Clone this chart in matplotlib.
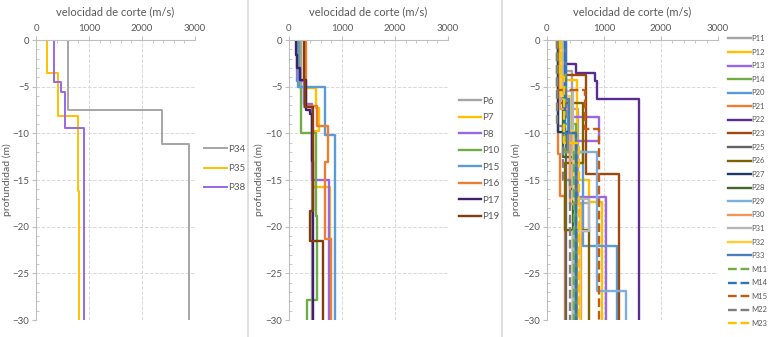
import matplotlib
matplotlib.use("Agg")
import matplotlib.pyplot as plt
from matplotlib.lines import Line2D
from matplotlib.ticker import MultipleLocator

plt.rcParams['font.family'] = ['Lato', 'DejaVu Sans']

# each profile: (layer boundaries in m, shear velocity of each layer in m/s)
# ---- panel 1
P34 = ([0, -7.5, -11.1, -30], [600, 2370, 2880])
P35 = ([0, -3.5, -8.1, -16.2, -30], [200, 410, 790, 820])
P38 = ([0, -4.5, -5.6, -9.4, -30], [345, 470, 550, 910])

# ---- panel 2
P6 = ([0, -5.0, -7.2, -30], [230, 280, 440])
P7 = ([0, -5.1, -7.3, -9.7, -15.7, -30], [296, 500, 560, 460, 780])
P8 = ([0, -4.4, -6.9, -15.0, -30], [160, 280, 440, 760])
P10 = ([0, -5.0, -10.0, -18.9, -27.9, -30], [190, 220, 500, 535, 340])
P15 = ([0, -5.05, -10.2, -30], [170, 670, 860])
P16 = ([0, -7.1, -9.2, -13.1, -21.3, -30], [315, 520, 740, 670, 800])
P17 = ([0, -1.6, -3.0, -4.3, -7.5, -7.9, -13.0, -30], [126, 160, 200, 315, 390, 430, 450])
P19 = ([0, -4.3, -7.2, -18.3, -21.5, -30], [290, 300, 460, 395, 645])

# ---- panel 3
P11 = ([0, -3.3, -7.4, -17.5, -20.5, -30], [240, 430, 540, 740, 520])
P12 = ([0, -4.3, -15.0, -17.4, -30], [300, 520, 740, 960])
P13 = ([0, -8.3, -10.8, -16.8, -30], [330, 920, 530, 1040])
P14 = ([0, -5.5, -9.0, -30], [200, 300, 500])
P20 = ([0, -6.3, -12.0, -22.1, -30], [300, 370, 630, 1220])
P21 = ([0, -12.2, -16.7, -30], [200, 230, 320])
P22 = ([0, -2.6, -3.5, -4.4, -6.3, -30], [316, 509, 842, 877, 1620])
P23 = ([0, -3.8, -14.4, -30], [250, 680, 1260])
P25 = ([0, -10.0, -30], [300, 340])
P26 = ([0, -6.8, -13.2, -20.4, -30], [230, 640, 320, 740])
P27 = ([0, -9.9, -16.0, -30], [200, 400, 500])
P28 = ([0, -6.2, -12.5, -30], [210, 280, 460])
P29 = ([0, -6.3, -12.0, -26.9, -30], [250, 420, 870, 1390])
P30 = ([0, -7.4, -17.6, -30], [220, 400, 600])
P31 = ([0, -5.5, -17.0, -20.5, -30], [280, 450, 740, 450])
P32 = ([0, -6.0, -9.8, -17.8, -30], [250, 400, 480, 580])
P33 = ([0, -6.3, -10.0, -30], [340, 380, 500])
M11 = ([0, -3.5, -12.0, -30], [230, 320, 480])
M14 = ([0, -10.0, -30], [320, 500])
M15 = ([0, -5.4, -9.5, -30], [180, 670, 920])
M22 = ([0, -9.2, -15.0, -30], [180, 280, 400])
M23 = ([0, -4.0, -11.0, -30], [230, 300, 560])

panel1 = [('P34', P34, '#a5a5a5', '-'), ('P35', P35, '#ffc000', '-'),
          ('P38', P38, '#9966e6', '-')]
panel2 = [('P6', P6, '#a5a5a5', '-'), ('P7', P7, '#ffc000', '-'),
          ('P8', P8, '#9966e6', '-'), ('P10', P10, '#70ad47', '-'),
          ('P15', P15, '#5b9bd5', '-'), ('P16', P16, '#ed7d31', '-'),
          ('P17', P17, '#3f1f6e', '-'), ('P19', P19, '#843c0c', '-')]
panel3 = [('P11', P11, '#a5a5a5', '-'), ('P12', P12, '#ffc000', '-'),
          ('P13', P13, '#9966e6', '-'), ('P14', P14, '#70ad47', '-'),
          ('P20', P20, '#5b9bd5', '-'), ('P21', P21, '#ed7d31', '-'),
          ('P22', P22, '#5b2c8f', '-'), ('P23', P23, '#9e480e', '-'),
          ('P25', P25, '#636363', '-'), ('P26', P26, '#806000', '-'),
          ('P27', P27, '#203864', '-'), ('P28', P28, '#43682b', '-'),
          ('P29', P29, '#7cafdd', '-'), ('P30', P30, '#f1975a', '-'),
          ('P31', P31, '#b7b7b7', '-'), ('P32', P32, '#ffcd33', '-'),
          ('P33', P33, '#4a7ebb', '-'), ('M11', M11, '#70ad47', '--'),
          ('M14', M14, '#2e75b6', '--'), ('M15', M15, '#c55a11', '--'),
          ('M22', M22, '#7f7f7f', '--'), ('M23', M23, '#ffc000', '--')]


def profile(depths, vs):
    xs, ys = [], []
    for i, v in enumerate(vs):
        xs += [v, v]
        ys += [depths[i], depths[i + 1]]
    return xs, ys


def setupAxes(ax, ylabel_x):
    ax.set_xlim(0, 3000)
    ax.set_ylim(-30, 0)
    ax.xaxis.tick_top()
    ax.xaxis.set_label_position('top')
    ax.set_xticks([0, 1000, 2000, 3000])
    ax.set_yticks(range(-30, 1, 5))
    ax.xaxis.set_minor_locator(MultipleLocator(200))
    ax.yaxis.set_minor_locator(MultipleLocator(1))
    ax.tick_params(which='major', labelsize=7, colors='#bfbfbf', labelcolor='#595959',
                   length=3, width=0.8, pad=2)
    ax.tick_params(which='minor', direction='in', colors='#bfbfbf', length=2.5, width=0.6)
    ax.grid(True, which='major', color='#d9d9d9', linestyle='--', linewidth=0.7)
    for s in ['right', 'bottom']:
        ax.spines[s].set_visible(False)
    for s in ['left', 'top']:
        ax.spines[s].set_color('#bfbfbf')
        ax.spines[s].set_linewidth(0.8)
    ax.set_xlabel('velocidad de corte (m/s)', fontsize=8, color='#595959', labelpad=6)
    ax.set_ylabel('profundidad (m)', fontsize=7.5, color='#595959')
    ax.yaxis.set_label_coords(ylabel_x, 0.5)


fig = plt.figure(figsize=(7.76, 3.37), dpi=100)
W, H = 776.0, 337.0
boxes = [(36, 195), (289, 448), (547, 718)]
# x of the baseline side of the rotated y label, in pixels
label_px = [12, 264, 521]
axes = []
for (l, r), lx in zip(boxes, label_px):
    ax = fig.add_axes([l / W, 1 - 320 / H, (r - l) / W, 280 / H])
    setupAxes(ax, (lx - l) / float(r - l))
    axes.append(ax)

widths = [1.4, 1.7, 1.7]
for ax, series, lw in zip(axes, [panel1, panel2, panel3], widths):
    for name, (z, v), col, ls in series:
        xs, ys = profile(z, v)
        ax.plot(xs, ys, color=col, linestyle=ls, linewidth=lw, label=name)

leg_kw = dict(frameon=False, loc='upper left', borderaxespad=0, handletextpad=0.1,
              labelcolor='#595959')
axes[0].legend(bbox_to_anchor=(200 / W, 1 - 141 / H), bbox_transform=fig.transFigure,
               fontsize=7, handlelength=2.4, labelspacing=1.05, **leg_kw)
axes[1].legend(bbox_to_anchor=(455 / W, 1 - 93 / H), bbox_transform=fig.transFigure,
               fontsize=7, handlelength=2.3, labelspacing=0.77, **leg_kw)
axes[2].legend(bbox_to_anchor=(725 / W, 1 - 32 / H), bbox_transform=fig.transFigure,
               fontsize=5.5, handlelength=3.0, labelspacing=0.86, **leg_kw)

# thin borders between the three charts
for x in [248, 502]:
    fig.add_artist(Line2D([x / W, x / W], [0, 1], color='#d9d9d9', linewidth=1.2))

fig.savefig('out.png', dpi=100)
